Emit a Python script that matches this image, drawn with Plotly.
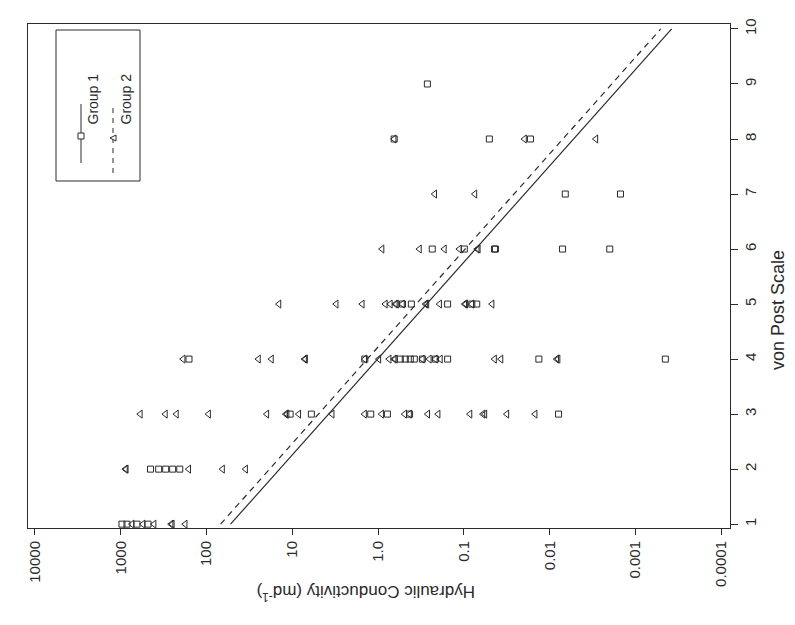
import plotly.graph_objects as go

# ---- data ----
g1_vp = [1, 1, 1, 1,
         2, 2, 2, 2, 2,
         3, 3, 3, 3, 3, 3,
         4, 4, 4, 4, 4, 4, 4, 4, 4, 4, 4,
         5, 5, 5, 5, 5,
         6, 6, 6, 6, 6, 6,
         7, 7,
         8, 8, 8,
         9]
g1_k = [966, 845, 646, 480,
        449, 361, 299, 248, 205,
        10.6, 6.0, 1.22, 0.78, 0.43, 0.0079,
        160, 1.43, 0.552, 0.483, 0.422, 0.379, 0.305, 0.215, 0.155, 0.0134, 0.00045,
        0.52, 0.41, 0.155, 0.081, 0.071,
        0.234, 0.099, 0.044, 0.043, 0.0071, 0.0020,
        0.0066, 0.0015,
        0.65, 0.0506, 0.0168,
        0.267]

g2_vp = [1, 1, 1, 1, 1, 1,
         2, 2, 2, 2, 2,
         3, 3, 3, 3, 3, 3, 3, 3, 3, 3, 3, 3, 3, 3, 3, 3, 3, 3, 3, 3,
         4, 4, 4, 4, 4, 4, 4, 4, 4, 4, 4, 4, 4, 4, 4, 4, 4, 4,
         5, 5, 5, 5, 5, 5, 5, 5, 5, 5, 5, 5, 5, 5, 5,
         6, 6, 6, 6, 6, 6,
         7, 7,
         8, 8, 8]
g2_k = [738, 550, 408, 258, 250, 177,
        880, 860, 161, 65, 35,
        590, 301, 224, 94.5, 19.8, 11.9, 11.5, 8.4, 3.43, 1.44, 0.91, 0.49, 0.43,
        0.264, 0.20, 0.085, 0.060, 0.057, 0.0316, 0.0148,
        187, 24.8, 17.5, 7.2, 7.0, 1.43, 0.98, 0.743, 0.65, 0.63, 0.305, 0.253,
        0.215, 0.188, 0.044, 0.037, 0.0083, 0.0080,
        14.3, 3.08, 1.53, 0.824, 0.72, 0.63, 0.61, 0.52, 0.28, 0.27, 0.192,
        0.098, 0.095, 0.081, 0.047,
        0.90, 0.33, 0.169, 0.113, 0.070, 0.068,
        0.219, 0.0745,
        0.65, 0.0197, 0.0029]

line_vp = [1, 10]
g1_line_k = [52.5, 0.00038]
g2_line_k = [68.5, 0.00051]

k_tickvals = [10000, 1000, 100, 10, 1, 0.1, 0.01, 0.001, 0.0001]
k_ticktext = ["10000", "1000", "100", "10", "1.0", "0.1", "0.01", "0.001", "0.0001"]
vp_ticks = [1, 2, 3, 4, 5, 6, 7, 8, 9, 10]

INK = "#2a2a2a"
FONT = "Liberation Sans, Arial, sans-serif"

fig = go.Figure()
fig.add_trace(go.Scatter(x=g1_line_k, y=line_vp, mode="lines",
                         line=dict(color=INK, width=1.2), showlegend=False))
fig.add_trace(go.Scatter(x=g2_line_k, y=line_vp, mode="lines",
                         line=dict(color=INK, width=1.2, dash="6px,5px"),
                         showlegend=False))
fig.add_trace(go.Scatter(x=g1_k, y=g1_vp, mode="markers", name="Group 1",
                         marker=dict(symbol="square-open", size=6,
                                     color=INK, line=dict(width=1)),
                         showlegend=False))
fig.add_trace(go.Scatter(x=g2_k, y=g2_vp, mode="markers", name="Group 2",
                         marker=dict(symbol="triangle-left-open", size=7,
                                     color=INK, line=dict(width=1)),
                         showlegend=False))

L, R, T, B = 20, 73, 16, 105
W, H = 795, 625
pw, ph = W - L - R, H - T - B


def px(x):
    return (x - L) / pw


def py(y):
    return (H - B - y) / ph


shapes = [
    dict(type="rect", xref="paper", yref="paper", x0=px(48), x1=px(132),
         y0=py(173), y1=py(22), line=dict(color=INK, width=1)),
    dict(type="line", xref="paper", yref="paper", x0=px(73), x1=px(73),
         y0=py(155), y1=py(96), line=dict(color=INK, width=1)),
    dict(type="rect", xref="paper", yref="paper", x0=px(70), x1=px(76),
         y0=py(131), y1=py(125), line=dict(color=INK, width=1),
         fillcolor="white"),
    dict(type="line", xref="paper", yref="paper", x0=px(105), x1=px(105),
         y0=py(165), y1=py(96), line=dict(color=INK, width=1, dash="5px,5px")),
    dict(type="path", xref="paper", yref="paper",
         path=f"M {px(102)} {py(130)} L {px(108)} {py(127)} L {px(108)} {py(133)} Z",
         line=dict(color=INK, width=1), fillcolor="white"),
]

annotations = [
    dict(text="Group 1", xref="paper", yref="paper", x=px(74), y=py(64),
         showarrow=False, textangle=-90, font=dict(size=14, color=INK, family=FONT)),
    dict(text="Group 2", xref="paper", yref="paper", x=px(107), y=py(64),
         showarrow=False, textangle=-90, font=dict(size=14, color=INK, family=FONT)),
    dict(text="Hydraulic Conductivity (md<sup>-1</sup>)", xref="paper",
         yref="paper", x=px(358), y=py(598), showarrow=False, textangle=180,
         font=dict(size=17, color=INK, family=FONT)),
    dict(text="von Post Scale", xref="paper", yref="paper", x=px(782),
         y=py(302), showarrow=False, textangle=-90,
         font=dict(size=18, color=INK, family=FONT)),
]

fig.update_layout(
    width=W, height=H,
    margin=dict(l=L, r=R, t=T, b=B, autoexpand=False),
    paper_bgcolor="white", plot_bgcolor="white",
    font=dict(family=FONT, color=INK, size=14),
    showlegend=False,
    shapes=shapes,
    annotations=annotations,
    xaxis=dict(type="log", range=[4.08, -4.1], tickvals=k_tickvals,
               ticktext=k_ticktext, tickangle=-90, ticks="outside",
               ticklen=6, tickcolor=INK, showline=True, linecolor=INK,
               linewidth=1, mirror=True, showgrid=False, zeroline=False,
               automargin=False,
               tickfont=dict(size=15, family=FONT, color=INK)),
    yaxis=dict(range=[0.93, 10.09], side="right", tickvals=vp_ticks,
               tickangle=-90, ticks="outside", ticklen=7, tickcolor=INK,
               showline=True, linecolor=INK, linewidth=1, mirror=True,
               showgrid=False, zeroline=False, automargin=False,
               tickfont=dict(size=15, family=FONT, color=INK)),
)

fig.write_html("out.html")
